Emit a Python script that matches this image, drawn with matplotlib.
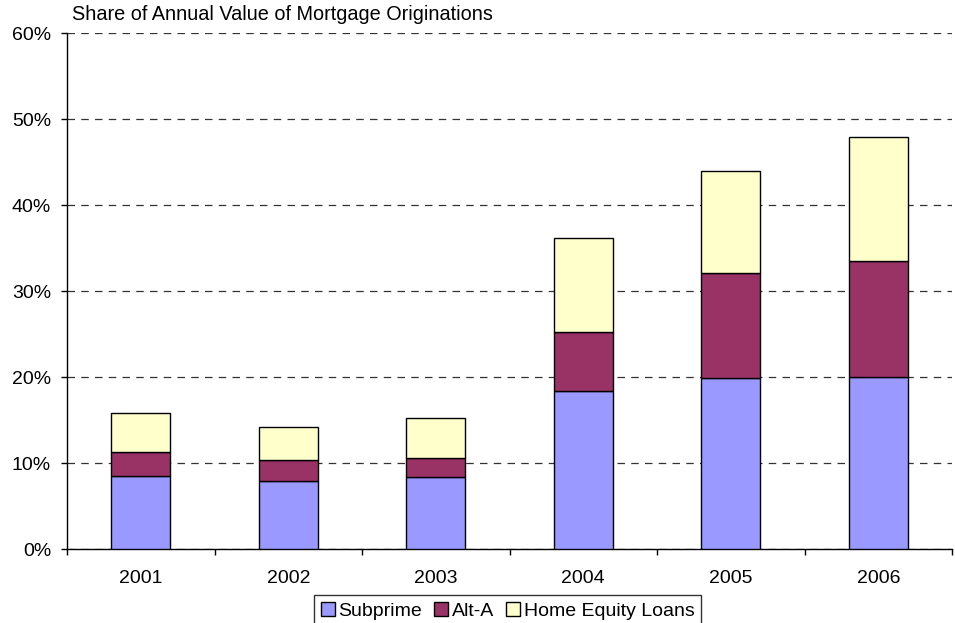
import numpy as np
import matplotlib.pyplot as plt
from matplotlib.ticker import FixedLocator, PercentFormatter

plt.rcParams['font.family'] = ['Liberation Sans', 'DejaVu Sans']

years = ["2001", "2002", "2003", "2004", "2005", "2006"]
subprime = [8.5, 7.9, 8.4, 18.4, 19.9, 20.0]
alt_a = [2.8, 2.4, 2.2, 6.8, 12.2, 13.5]
home_equity = [4.5, 3.9, 4.6, 11.0, 11.8, 14.4]

x = np.arange(len(years))
w = 0.4

fig = plt.figure(figsize=(9.55, 6.23), dpi=100)
ax = fig.add_axes([67 / 955, 1 - 549 / 623, (952 - 67) / 955, (549 - 33) / 623])

b1 = np.array(subprime)
b2 = b1 + np.array(alt_a)
ax.bar(x, subprime, w, color="#9999ff", edgecolor="black", linewidth=1, label="Subprime", zorder=3)
ax.bar(x, alt_a, w, bottom=b1, color="#993366", edgecolor="black", linewidth=1, label="Alt-A", zorder=3)
ax.bar(x, home_equity, w, bottom=b2, color="#ffffcc", edgecolor="black", linewidth=1, label="Home Equity Loans", zorder=3)

ax.set_xlim(-0.5, 5.5)
ax.set_ylim(0, 60)
ax.set_yticks(np.arange(0, 61, 10))
ax.yaxis.set_major_formatter(PercentFormatter(decimals=0))
ax.yaxis.grid(True, linestyle=(0, (6, 5)), color="#333333", linewidth=0.9, zorder=0)

ax.set_xticks(x)
ax.set_xticklabels(years)
ax.xaxis.set_minor_locator(FixedLocator(np.arange(-0.5, 6, 1)))
ax.tick_params(axis='x', which='major', length=0, pad=15, labelsize=14)
ax.tick_params(axis='x', which='minor', length=4.5, width=1)
ax.tick_params(axis='y', length=4.5, width=1, labelsize=14, pad=7)

for s in ["top", "right"]:
    ax.spines[s].set_visible(False)
for s in ["left", "bottom"]:
    ax.spines[s].set_linewidth(1)

fig.text(72 / 955, 1 - 15 / 623, "Share of Annual Value of Mortgage Originations",
         fontsize=14.3, ha="left", va="center")

leg = fig.legend(loc="center", bbox_to_anchor=(507.5 / 955, 1 - 611 / 623), ncol=3,
                 fontsize=14, frameon=True, fancybox=False, edgecolor="black",
                 handlelength=0.72, handleheight=0.72, handletextpad=0.2,
                 columnspacing=0.6, borderpad=0.35, borderaxespad=0)
leg.get_frame().set_linewidth(1)

fig.savefig("out.png", dpi=100)
